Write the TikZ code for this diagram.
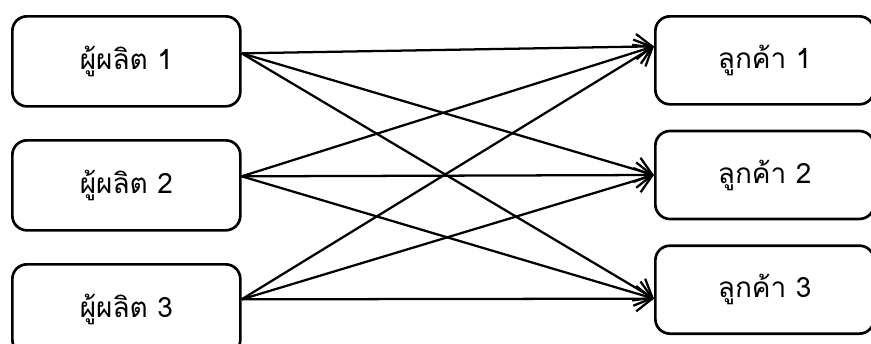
\documentclass[tikz,border=0pt]{standalone}
\usepackage{fontspec}
\setmainfont[Script=Thai]{Loma}
\usetikzlibrary{arrows.meta,positioning}

\begin{document}
\begin{tikzpicture}[
    font=\fontsize{21pt}{25pt}\selectfont,
    maker/.style={draw, line width=2pt, rounded corners=11pt, align=center, minimum width=171pt, minimum height=67.5pt},
    buyer/.style={draw, line width=2pt, rounded corners=11pt, align=center, minimum width=164pt, minimum height=66pt},
    arrow/.style={-{Straight Barb[length=12pt, width=19pt]}, line width=1.7pt}
]
\useasboundingbox (0,0) rectangle (653.25pt,-257.25pt);
\node[maker, anchor=north west] (p1) at (8.25pt,-11.25pt) {ผู้ผลิต 1};
\node[maker, below=23.5pt of p1] (p2) {ผู้ผลิต 2};
\node[maker, below=23.5pt of p2] (p3) {ผู้ผลิต 3};
\node[buyer, anchor=north west] (c1) at (490.5pt,-11.25pt) {ลูกค้า 1};
\node[buyer, below=18pt of c1] (c2) {ลูกค้า 2};
\node[buyer, below=18pt of c2] (c3) {ลูกค้า 3};
% where the lines leave and meet the boxes
\coordinate (s1) at ([yshift=6pt]p1.east);
\coordinate (s2) at ([yshift=6.75pt]p2.east);
\coordinate (s3) at ([yshift=7.5pt]p3.east);
\coordinate (e1) at ([yshift=10.5pt]c1.west);
\coordinate (e2) at ([yshift=0pt]c2.west);
\coordinate (e3) at ([yshift=-6.75pt]c3.west);
\draw[arrow] (s1) -- (e1);
\draw[arrow] (s1) -- (e2);
\draw[arrow] (s1) -- (e3);
\draw[arrow] (s2) -- (e1);
\draw[arrow] (s2) -- (e2);
\draw[arrow] (s2) -- (e3);
\draw[arrow] (s3) -- (e1);
\draw[arrow] (s3) -- (e2);
\draw[arrow] (s3) -- (e3);
\end{tikzpicture}
\end{document}
